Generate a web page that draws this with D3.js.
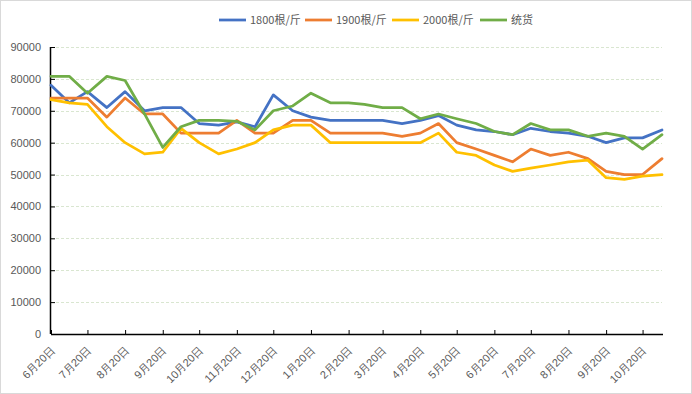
<!DOCTYPE html>
<html><head><meta charset="utf-8">
<script src="https://cdn.jsdelivr.net/npm/d3@7"></script>
<style>
html,body{margin:0;padding:0;background:#fff;}
svg{display:block;font-family:"Noto Sans CJK SC","Noto Sans",sans-serif;}
</style></head>
<body><svg id="c" width="692" height="394"></svg>
<script>
const dates = ["2022-06-20","2022-07-05","2022-07-20","2022-08-05","2022-08-20","2022-09-05","2022-09-20","2022-10-05","2022-10-20","2022-11-05","2022-11-20","2022-12-05","2022-12-20","2023-01-05","2023-01-20","2023-02-05","2023-02-20","2023-03-05","2023-03-20","2023-04-05","2023-04-20","2023-05-05","2023-05-20","2023-06-05","2023-06-20","2023-07-05","2023-07-20","2023-08-05","2023-08-20","2023-09-05","2023-09-20","2023-10-05","2023-10-20","2023-11-05"];
const s1800 = [78000,72500,76000,71000,76000,70000,71000,71000,66000,65500,66500,65000,75000,70000,68000,67000,67000,67000,67000,66000,67000,68500,65500,64000,63500,62500,64500,63500,63000,62000,60000,61500,61500,64000];
const s1900 = [74000,74000,74000,68000,74000,69000,69000,63000,63000,63000,67000,63000,63000,67000,67000,63000,63000,63000,63000,62000,63000,66000,60000,58000,56000,54000,58000,56000,57000,55000,51000,50000,50000,55000];
const s2000 = [73500,72500,72000,65000,60000,56500,57000,64500,60000,56500,58000,60000,64000,65500,65500,60000,60000,60000,60000,60000,60000,63000,57000,56000,53000,51000,52000,53000,54000,54500,49000,48500,49500,50000];
const sTong = [80800,80800,75500,80800,79500,69000,58500,65000,67000,67000,66700,64000,70000,71500,75500,72500,72500,72000,71000,71000,67500,69000,67500,66000,63500,62500,66000,64000,64000,62000,63000,62000,58000,62500];
const seriesNames = ["1800根/斤","1900根/斤","2000根/斤","统货"];
const tickDates = ["2022-06-20","2022-07-20","2022-08-20","2022-09-20","2022-10-20","2022-11-20","2022-12-20","2023-01-20","2023-02-20","2023-03-20","2023-04-20","2023-05-20","2023-06-20","2023-07-20","2023-08-20","2023-09-20","2023-10-20"];
const tickLabels = ["6月20日","7月20日","8月20日","9月20日","10月20日","11月20日","12月20日","1月20日","2月20日","3月20日","4月20日","5月20日","6月20日","7月20日","8月20日","9月20日","10月20日"];
const yTicks = [0,10000,20000,30000,40000,50000,60000,70000,80000,90000];
const colors = ["#4472C4","#ED7D31","#FFC000","#70AD47"];

const parse = d3.utcParse("%Y-%m-%d");
const svg = d3.select("#c");
svg.append("rect").attr("x",0.5).attr("y",0.5).attr("width",691).attr("height",393)
  .attr("fill","#fff").attr("stroke","#d9d9d9");

const L = 51, R = 662, T = 47, B = 334;
const x = d3.scaleUtc().domain([parse(dates[0]), parse(dates[dates.length-1])]).range([L, R]);
const y = d3.scaleLinear().domain([0, 90000]).range([B, T]);

// gridlines
svg.append("g").selectAll("line").data(yTicks.filter(v=>v>0)).join("line")
  .attr("x1",L).attr("x2",R).attr("y1",d=>Math.round(y(d))+0.5).attr("y2",d=>Math.round(y(d))+0.5)
  .attr("stroke","#d9e6d0").attr("stroke-width",1).attr("stroke-dasharray","3,2");

// y axis
const yAxis = svg.append("g").attr("transform",`translate(${L},0)`)
  .call(d3.axisLeft(y).tickValues(yTicks).tickSize(-4).tickPadding(10).tickFormat(d3.format("d")));
yAxis.select(".domain").attr("stroke","#000").attr("d",`M-0.5,${B}V${T}`).attr("stroke-width",1.5);
yAxis.selectAll(".tick line").attr("stroke","#000");
yAxis.selectAll("text").attr("fill","#595959").attr("font-size","11px");

// x axis
const xAxis = svg.append("g").attr("transform",`translate(0,${B})`)
  .call(d3.axisBottom(x).tickValues(tickDates.map(parse)).tickSize(-4)
    .tickFormat((d,i)=>tickLabels[i]));
xAxis.select(".domain").attr("stroke","#000").attr("stroke-width",1.5).attr("d",`M${L},0.5H${R+1}`);
xAxis.selectAll(".tick line").attr("stroke","#000");
xAxis.selectAll("text").attr("fill","#595959").attr("font-size","11px")
  .attr("text-anchor","end").attr("dy",null).attr("y",0)
  .attr("transform","translate(4,17) rotate(-45)");

// lines
const allSeries = [s1800, s1900, s2000, sTong];
const line = d3.line().x((d,i)=>x(parse(dates[i]))).y(d=>y(d));
svg.append("g").selectAll("path").data(allSeries).join("path")
  .attr("d",line).attr("fill","none").attr("stroke",(d,i)=>colors[i])
  .attr("stroke-width",2.75).attr("stroke-linejoin","round").attr("stroke-linecap","round");

// legend
const legendX = [219, 305, 392, 480];
const lg = svg.append("g");
seriesNames.forEach((n,i)=>{
  lg.append("line").attr("x1",legendX[i]).attr("x2",legendX[i]+27).attr("y1",20).attr("y2",20)
    .attr("stroke",colors[i]).attr("stroke-width",2.75);
  lg.append("text").attr("x",legendX[i]+31).attr("y",24).attr("fill","#595959")
    .attr("font-size","11px").text(n);
});
</script></body></html>
